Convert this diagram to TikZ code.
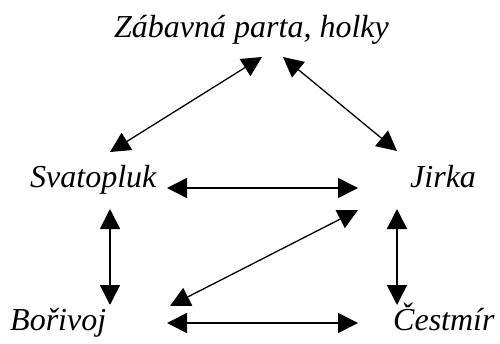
\documentclass[tikz,border=0pt]{standalone}
\usepackage{fontspec}
\setmainfont{Liberation Serif}
\usetikzlibrary{arrows.meta}
\begin{document}
\begin{tikzpicture}[x=1pt,y=-1pt,
  lbl/.style={anchor=base west,inner sep=0pt,font=\fontsize{32}{36}\selectfont\itshape},
  link/.style={line width=1.7pt,{Triangle[length=20pt,width=20pt]}-{Triangle[length=20pt,width=20pt]}},
  dlink/.style={line width=1.3pt,{Triangle[length=20pt,width=20pt]}-{Triangle[length=20pt,width=20pt]}}]
\useasboundingbox (0,0) rectangle (500,343);
\node[lbl] (zab) at (114,37) {Zábavná parta, holky};
\node[lbl] (svat) at (30,187) {Svatopluk};
\node[lbl] (jirka) at (410,187) {Jirka};
\node[lbl] (bor) at (10,330) {Bořivoj};
\node[lbl] (ces) at (393,330) {Čestmír};
% connector ends
\coordinate (zabL) at (262,57);
\coordinate (zabR) at (283,57);
\coordinate (svatT) at (110,152);
\coordinate (jirkaT) at (397,151);
\coordinate (svatE) at (167,188);
\coordinate (jirkaW) at (358,188);
\coordinate (svatB) at (110,209);
\coordinate (borT) at (110,305);
\coordinate (jirkaB) at (397,209);
\coordinate (cesT) at (397,305);
\coordinate (jirkaSW) at (358,210);
\coordinate (borNE) at (170,306);
\coordinate (borE) at (167,323);
\coordinate (cesW) at (358,323);
\draw[dlink] (svatT) -- (zabL);
\draw[dlink] (zabR) -- (jirkaT);
\draw[link] (svatE) -- (jirkaW);
\draw[link] (svatB) -- (borT);
\draw[link] (jirkaB) -- (cesT);
\draw[dlink] (borNE) -- (jirkaSW);
\draw[link] (borE) -- (cesW);
\end{tikzpicture}
\end{document}
